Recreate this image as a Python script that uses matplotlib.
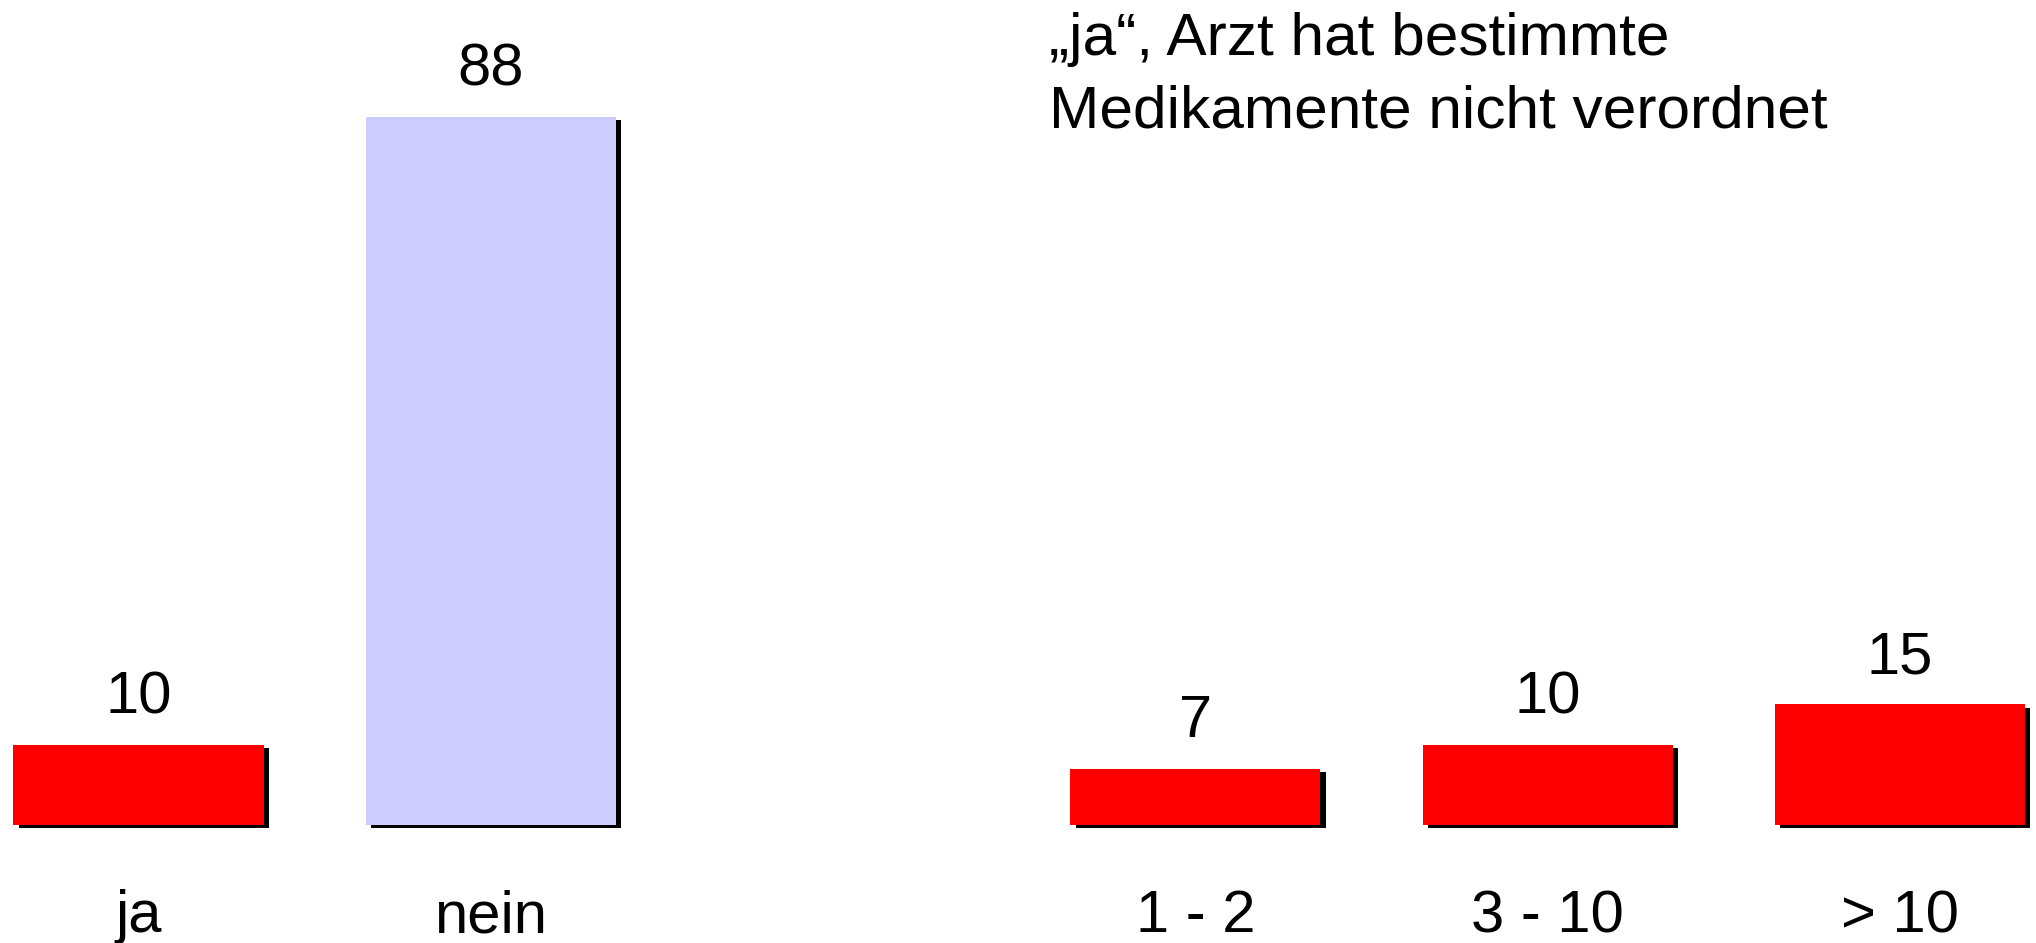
import matplotlib
matplotlib.use("Agg")
import matplotlib.pyplot as plt
import matplotlib.patheffects as pe

plt.rcParams['font.family'] = ['Liberation Sans', 'DejaVu Sans']

# left group: answer yes / no
left_labels = ["ja", "nein"]
left_values = [10, 88]
left_colors = ["#ff0000", "#ccccff"]

# right group: how often ("ja")
right_labels = ["1 - 2", "3 - 10", "> 10"]
right_values = [7, 10, 15]
right_colors = ["#ff0000", "#ff0000", "#ff0000"]

title_lines = ["\u201eja\u201c, Arzt hat bestimmte", "Medikamente nicht verordnet"]

W, H = 2036, 943
fig = plt.figure(figsize=(W / 100, H / 100), dpi=100)
ax = fig.add_axes([0, 0, 1, 1])

labels = left_labels + right_labels
values = left_values + right_values
colors = left_colors + right_colors
positions = list(range(len(left_labels))) + \
    [len(left_labels) + 1 + i for i in range(len(right_labels))]

shadow = [pe.SimplePatchShadow(offset=(3.8, -2.4), shadow_rgbFace="black", alpha=1.0),
          pe.Normal()]
bars = ax.bar(positions, values, width=0.71, color=colors, linewidth=0)
for b in bars:
    b.set_path_effects(shadow)

for x, v in zip(positions, values):
    ax.annotate(str(v), (x, v), xytext=(0, 22.5), textcoords="offset points",
                ha="center", va="baseline", fontsize=43)

for x, lab in zip(positions, labels):
    ax.text(x, -13.3, lab, ha="center", va="baseline", fontsize=43)

px_unit = 8.05
slot = 352.3
ax.set_xlim(-138.5 / slot, (W - 138.5) / slot)
ax.set_ylim(-(H - 825) / px_unit, 825 / px_unit)
ax.axis("off")

fig.text(1049 / W, 1 - 55 / H, title_lines[0], ha="left", va="baseline", fontsize=43.5)
fig.text(1049 / W, 1 - 128 / H, title_lines[1], ha="left", va="baseline", fontsize=43.5)

fig.savefig("out.png", dpi=100, facecolor="white")
